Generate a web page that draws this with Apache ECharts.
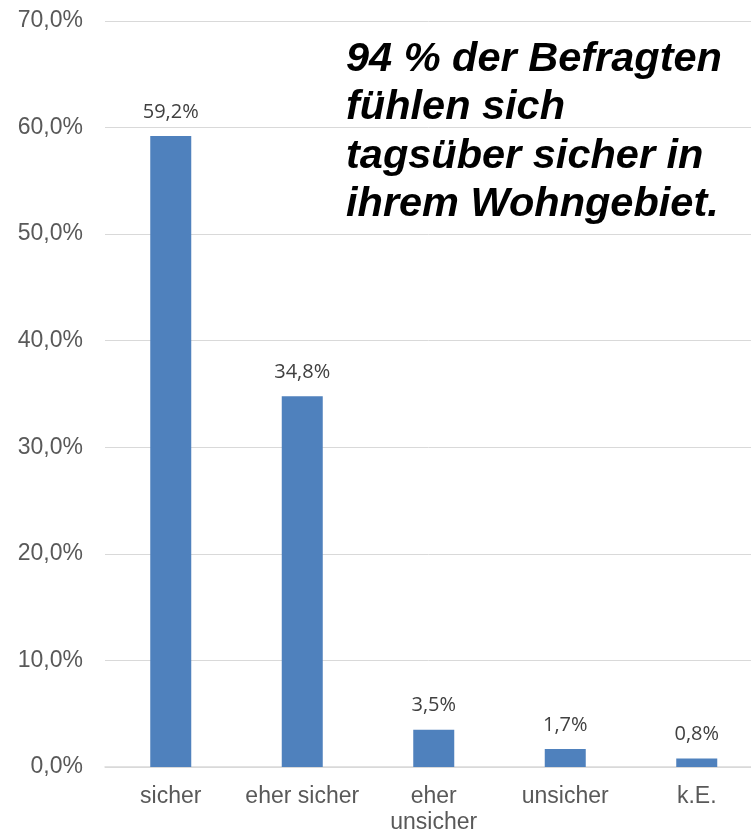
<!DOCTYPE html>
<html>
<head>
<meta charset="utf-8">
<script src="https://cdn.jsdelivr.net/npm/echarts@6/dist/echarts.min.js"></script>
<style>
  html, body { margin: 0; padding: 0; background: #fff; }
  #chart { width: 751px; height: 832px; }
</style>
</head>
<body>
<div id="chart"></div>
<script>
  var categories = ['sicher', 'eher sicher', 'eher\nunsicher', 'unsicher', 'k.E.'];
  var values = [59.2, 34.8, 3.5, 1.7, 0.8];
  var yTicks = [0, 10, 20, 30, 40, 50, 60, 70];
  var headline = '94 % der Befragten\nfühlen sich\ntagsüber sicher in\nihrem Wohngebiet.';

  function pct(v) {
    return v.toFixed(1).replace('.', ',') + '%';
  }

  var myChart = echarts.init(document.getElementById('chart'));
  myChart.setOption({
    backgroundColor: '#ffffff',
    animation: false,
    title: {
      text: headline,
      left: 346,
      top: 35,
      padding: 0,
      textStyle: {
        fontFamily: 'Liberation Sans, Arial, sans-serif',
        fontSize: 41.5,
        fontWeight: 'bold',
        fontStyle: 'italic',
        lineHeight: 48.5,
        color: '#000000'
      }
    },
    grid: {
      left: 105,
      top: 21,
      bottom: 65,
      width: 657.5,
      containLabel: false,
      outerBoundsMode: 'none'
    },
    xAxis: {
      type: 'category',
      data: categories,
      axisTick: { show: false },
      axisLine: {
        lineStyle: { color: '#d9d9d9', width: 1.5 }
      },
      axisLabel: {
        margin: 17,
        interval: 0,
        fontFamily: 'Liberation Sans, Arial, sans-serif',
        fontSize: 23,
        lineHeight: 26,
        color: '#595959'
      }
    },
    yAxis: {
      type: 'value',
      min: yTicks[0],
      max: yTicks[yTicks.length - 1],
      interval: 10,
      axisLine: { show: false },
      axisTick: { show: false },
      splitLine: {
        lineStyle: { color: '#d9d9d9', width: 1 }
      },
      axisLabel: {
        margin: 22,
        fontFamily: 'Liberation Sans, Arial, sans-serif',
        fontSize: 23,
        color: '#595959',
        formatter: function (v) { return pct(v); }
      }
    },
    series: [{
      type: 'bar',
      data: values,
      barWidth: 41, //柱宽
      itemStyle: { color: '#4f81bd' },
      label: {
        show: true,
        position: 'top',
        distance: 14,
        fontFamily: 'Open Sans, Noto Sans, sans-serif',
        fontSize: 20,
        color: '#404040',
        formatter: function (p) { return pct(p.value); }
      }
    }]
  });
</script>
</body>
</html>
